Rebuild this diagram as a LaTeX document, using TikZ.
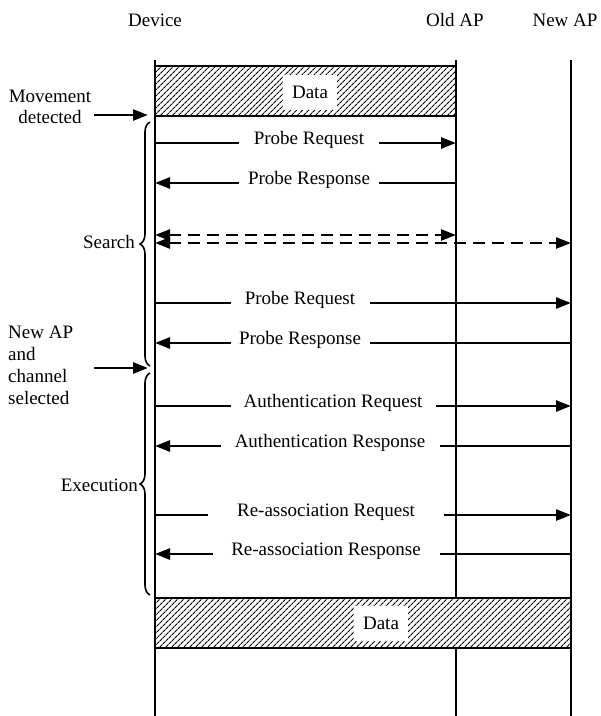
\documentclass[tikz,border=0pt]{standalone}
\usepackage{fontspec}
\setmainfont{Liberation Serif}
\usetikzlibrary{arrows.meta,patterns.meta,decorations.pathreplacing}

\begin{document}
\begin{tikzpicture}[x=1pt,y=-1pt,
  every node/.style={font=\fontsize{19}{22}\selectfont},
  lifeline/.style={line width=1.8pt},
  tip/.tip={Triangle[length=15pt,width=11pt]},
  msg/.style={line width=2.6pt,-tip},
  dmsg/.style={line width=2.4pt,dash pattern=on 12pt off 7pt,tip-tip},
  gaplbl/.style={fill=white,inner xsep=0pt,inner ysep=0pt,minimum height=18pt,minimum width=#1},
  databox/.style={draw,line width=1.8pt,preaction={fill=white},pattern={Lines[angle=45,distance=4pt,line width=1.2pt]}},
  datalbl/.style={fill=white,minimum width=54pt,minimum height=35pt,inner sep=0pt},
  brc/.style={decorate,decoration={brace,amplitude=10pt},line width=1.6pt},
  side/.style={line width=2.6pt,-tip}
]
\useasboundingbox (0,0) rectangle (601,716);

% participants
\node (devname) at (155,20) {Device};
\node (oldname) at (455,20) {Old AP};
\node (newname) at (565,20) {New AP};

% lifelines
\coordinate (devtop) at (155,60); \coordinate (devbot) at (155,716);
\coordinate (oldtop) at (456,60); \coordinate (oldbot) at (456,716);
\coordinate (newtop) at (571,60); \coordinate (newbot) at (571,716);
\draw[lifeline] (devtop) -- (devbot);
\draw[lifeline] (oldtop) -- (oldbot);
\draw[lifeline] (newtop) -- (newbot);

% data exchanged with the old AP
\draw[databox] (155,66) rectangle (456,116);
\node[datalbl] (data1) at (310,92) {Data};

% data exchanged with the new AP
\draw[databox] (155,598) rectangle (571,648);
\node[datalbl] (data2) at (381,623) {Data};

% message end points
\coordinate (d1) at (155,143); \coordinate (o1) at (456,143);
\coordinate (d2) at (155,183); \coordinate (o2) at (456,183);
\coordinate (d3) at (155,235); \coordinate (o3) at (456,235);
\coordinate (d4) at (155,243); \coordinate (n4) at (571,243);
\coordinate (d5) at (155,303); \coordinate (n5) at (571,303);
\coordinate (d6) at (155,343); \coordinate (n6) at (571,343);
\coordinate (d7) at (155,406); \coordinate (n7) at (571,406);
\coordinate (d8) at (155,446); \coordinate (n8) at (571,446);
\coordinate (d9) at (155,515); \coordinate (n9) at (571,515);
\coordinate (d10) at (155,554); \coordinate (n10) at (571,554);

% search phase
\draw[msg] (d1) -- (o1);
\node[gaplbl=140pt] (m1) at (309,140) {Probe Request};
\draw[msg] (o2) -- (d2);
\node[gaplbl=140pt] (m2) at (309,180) {Probe Response};
\draw[dmsg] (d3) -- (o3);
\draw[dmsg] (d4) -- (n4);
\draw[msg] (d5) -- (n5);
\node[gaplbl=139pt] (m5) at (300,300) {Probe Request};
\draw[msg] (n6) -- (d6);
\node[gaplbl=139pt] (m6) at (300,340) {Probe Response};

% execution phase
\draw[msg] (d7) -- (n7);
\node[gaplbl=205pt] (m7) at (333,403) {Authentication Request};
\draw[msg] (n8) -- (d8);
\node[gaplbl=219pt] (m8) at (330,443) {Authentication Response};
\draw[msg] (d9) -- (n9);
\node[gaplbl=236pt] (m9) at (326,512) {Re-association Request};
\draw[msg] (n10) -- (d10);
\node[gaplbl=227pt] (m10) at (326,551) {Re-association Response};

% phase braces
\coordinate (sb1) at (150,122); \coordinate (sb2) at (150,366);
\coordinate (eb1) at (150,373); \coordinate (eb2) at (150,595);
\draw[brc] (sb2) -- (sb1);
\draw[brc] (eb2) -- (eb1);
\node[anchor=east,inner sep=1pt] (search) at (136,242) {Search};
\node[anchor=east,inner sep=1pt] (exec) at (139,485) {Execution};

% triggering events
\node[align=center,font=\fontsize{19}{21}\selectfont] (move) at (50,107) {Movement\\detected};
\coordinate (mv1) at (94,115); \coordinate (mv2) at (148,115);
\draw[side] (mv1) -- (mv2);
\node[align=left,anchor=west,inner sep=0pt] (sel) at (8,365) {New AP\\and\\channel\\selected};
\coordinate (sl1) at (94,368); \coordinate (sl2) at (148,368);
\draw[side] (sl1) -- (sl2);
\end{tikzpicture}
\end{document}
